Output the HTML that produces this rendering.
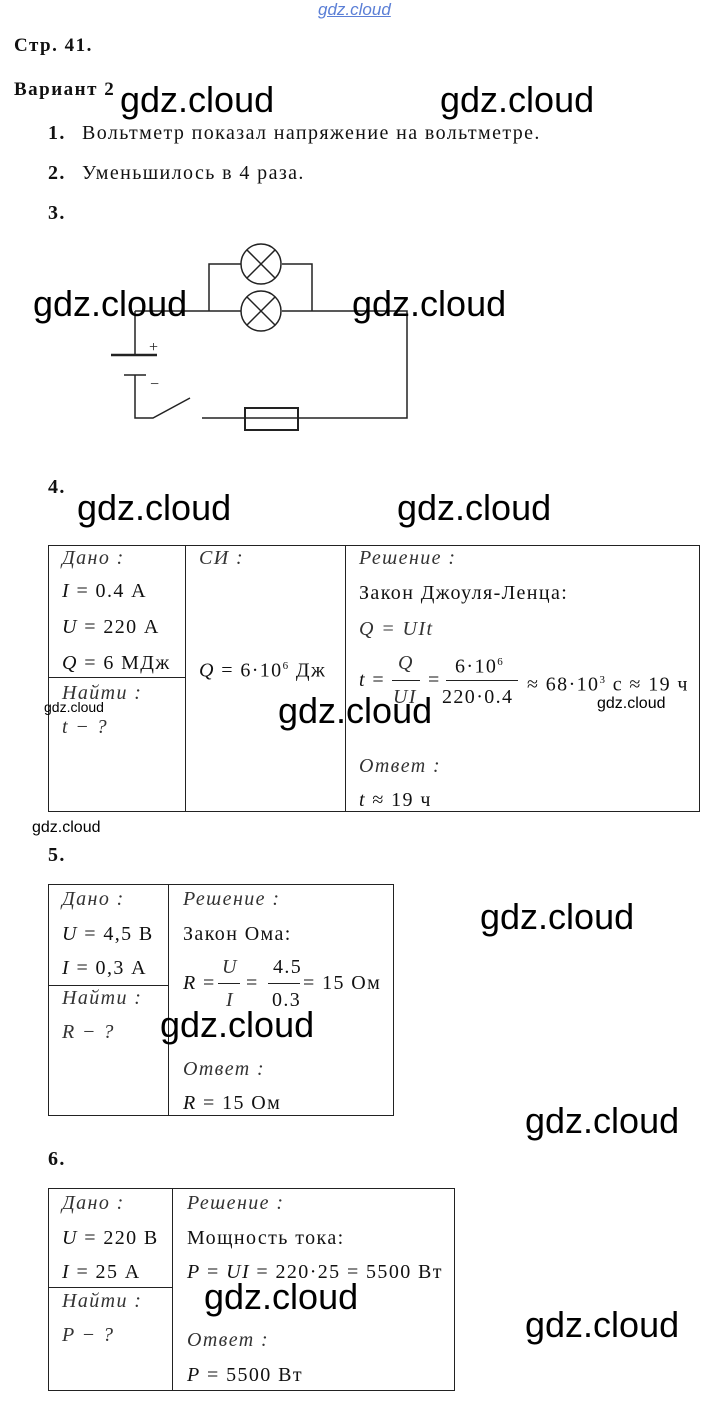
<!DOCTYPE html>
<html><head><meta charset="utf-8"><style>
body{margin:0;width:711px;height:1401px;background:#fff;position:relative;overflow:hidden;font-family:"Liberation Serif",serif;color:#111}
.t{position:absolute;font-size:20px;line-height:22px;white-space:nowrap;letter-spacing:1.4px}
.i{font-style:italic;color:#333}
.b{font-weight:bold}
.w{position:absolute;font-family:"Liberation Sans",sans-serif;font-size:36px;line-height:40px;color:#000;white-space:nowrap}
.ws{position:absolute;font-family:"Liberation Sans",sans-serif;font-size:15px;line-height:18px;color:#000;white-space:nowrap}
.ln{position:absolute;background:#222}
.box{position:absolute;border:1px solid #222}
sup{font-size:11px}
</style></head><body>
<div class="ws" style="left:318px;top:1px;color:#5b7fd6;font-size:17px;font-style:italic;text-decoration:underline">gdz.cloud</div>
<div class="t b" style="left:14px;top:35px;font-size:19px;letter-spacing:1.5px">Стр. 41.</div>
<div class="t b" style="left:14px;top:79px;font-size:19px;letter-spacing:1.5px">Вариант 2</div>
<div class="w" style="left:120px;top:80px">gdz.cloud</div>
<div class="w" style="left:440px;top:80px">gdz.cloud</div>
<div class="t b" style="left:48px;top:122px">1.</div>
<div class="t" style="left:82px;top:122px">Вольтметр показал напряжение на вольтметре.</div>
<div class="t b" style="left:48px;top:162px">2.</div>
<div class="t" style="left:82px;top:162px">Уменьшилось в 4 раза.</div>
<div class="t b" style="left:48px;top:202px">3.</div>
<svg style="position:absolute;left:0;top:0" width="711" height="460">
<g stroke="#222" stroke-width="1.5" fill="none">
<path d="M209 311V264H241M282 264H312V311"/>
<circle cx="261" cy="264" r="20"/><circle cx="261" cy="311" r="20"/>
<path d="M247 250L275 278M275 250L247 278M247 297L275 325M275 297L247 325"/>
<path d="M135 311H241M282 311H407V418H202"/>
<path d="M135 311V355M135 375V418H153L190 398"/>
<rect x="245" y="408" width="53" height="22" stroke-width="2"/>
<path d="M111 355H157" stroke-width="2.5"/>
<path d="M124 375H146"/>
</g>
<text x="149" y="352" font-family="Liberation Serif" font-size="16" fill="#222">+</text>
<text x="150" y="389" font-family="Liberation Serif" font-size="16" fill="#222">−</text>
</svg>
<div class="w" style="left:33px;top:284px">gdz.cloud</div>
<div class="w" style="left:352px;top:284px">gdz.cloud</div>
<div class="t b" style="left:48px;top:476px">4.</div>
<div class="w" style="left:77px;top:488px">gdz.cloud</div>
<div class="w" style="left:397px;top:488px">gdz.cloud</div>

<div class="box" style="left:48px;top:545px;width:650px;height:265px"></div>
<div class="ln" style="left:185px;top:545px;width:1px;height:266px"></div>
<div class="ln" style="left:345px;top:545px;width:1px;height:266px"></div>
<div class="ln" style="left:48px;top:677px;width:137px;height:1px"></div>
<div class="t i" style="left:62px;top:547px">Дано :</div>
<div class="t" style="left:62px;top:580px"><i>I</i> = 0.4 А</div>
<div class="t" style="left:62px;top:616px"><i>U</i> = 220 А</div>
<div class="t" style="left:62px;top:652px"><i>Q</i> = 6 МДж</div>
<div class="t i" style="left:62px;top:682px">Найти :</div>
<div class="t i" style="left:62px;top:716px">t − ?</div>
<div class="t i" style="left:199px;top:547px">СИ :</div>
<div class="t" style="left:199px;top:655px"><i>Q</i> = 6·10<sup>6</sup> Дж</div>
<div class="t i" style="left:359px;top:547px">Решение :</div>
<div class="t" style="left:359px;top:582px">Закон Джоуля-Ленца:</div>
<div class="t i" style="left:359px;top:618px">Q = UIt</div>
<div class="t" style="left:359px;top:669px"><i>t</i> =</div>
<div class="t i" style="left:398px;top:652px">Q</div>
<div class="ln" style="left:392px;top:680px;width:28px;height:1px"></div>
<div class="t i" style="left:393px;top:686px">UI</div>
<div class="t" style="left:428px;top:669px">=</div>
<div class="t" style="left:455px;top:651px">6·10<sup>6</sup></div>
<div class="ln" style="left:446px;top:680px;width:72px;height:1px"></div>
<div class="t" style="left:442px;top:686px">220·0.4</div>
<div class="t" style="left:527px;top:669px">≈ 68·10<sup>3</sup> с ≈ 19 ч</div>
<div class="t i" style="left:359px;top:755px">Ответ :</div>
<div class="t" style="left:359px;top:789px"><i>t</i> ≈ 19 ч</div>
<div class="ws" style="left:44px;top:698px;font-size:14px">gdz.cloud</div>
<div class="ws" style="left:597px;top:695px;font-size:16px">gdz.cloud</div>
<div class="w" style="left:278px;top:691px">gdz.cloud</div>
<div class="ws" style="left:32px;top:819px;font-size:16px">gdz.cloud</div>

<div class="t b" style="left:48px;top:844px">5.</div>
<div class="box" style="left:48px;top:884px;width:344px;height:230px"></div>
<div class="ln" style="left:168px;top:884px;width:1px;height:231px"></div>
<div class="ln" style="left:48px;top:985px;width:120px;height:1px"></div>
<div class="t i" style="left:62px;top:888px">Дано :</div>
<div class="t" style="left:62px;top:923px"><i>U</i> = 4,5 В</div>
<div class="t" style="left:62px;top:957px"><i>I</i> = 0,3 А</div>
<div class="t i" style="left:62px;top:987px">Найти :</div>
<div class="t i" style="left:62px;top:1021px">R − ?</div>
<div class="t i" style="left:183px;top:888px">Решение :</div>
<div class="t" style="left:183px;top:923px">Закон Ома:</div>
<div class="t" style="left:183px;top:972px"><i>R</i> =</div>
<div class="t i" style="left:222px;top:956px">U</div>
<div class="ln" style="left:218px;top:983px;width:22px;height:1px"></div>
<div class="t i" style="left:226px;top:989px">I</div>
<div class="t" style="left:246px;top:972px">=</div>
<div class="t" style="left:273px;top:956px">4.5</div>
<div class="ln" style="left:268px;top:983px;width:32px;height:1px"></div>
<div class="t" style="left:272px;top:989px">0.3</div>
<div class="t" style="left:303px;top:972px">= 15 Ом</div>
<div class="t i" style="left:183px;top:1058px">Ответ :</div>
<div class="t" style="left:183px;top:1092px"><i>R</i> = 15 Ом</div>
<div class="w" style="left:480px;top:897px">gdz.cloud</div>
<div class="w" style="left:160px;top:1005px">gdz.cloud</div>
<div class="w" style="left:525px;top:1101px">gdz.cloud</div>

<div class="t b" style="left:48px;top:1148px">6.</div>
<div class="box" style="left:48px;top:1188px;width:405px;height:201px"></div>
<div class="ln" style="left:172px;top:1188px;width:1px;height:202px"></div>
<div class="ln" style="left:48px;top:1287px;width:124px;height:1px"></div>
<div class="t i" style="left:62px;top:1192px">Дано :</div>
<div class="t" style="left:62px;top:1227px"><i>U</i> = 220 В</div>
<div class="t" style="left:62px;top:1261px"><i>I</i> = 25 А</div>
<div class="t i" style="left:62px;top:1290px">Найти :</div>
<div class="t i" style="left:62px;top:1324px">P − ?</div>
<div class="t i" style="left:187px;top:1192px">Решение :</div>
<div class="t" style="left:187px;top:1227px">Мощность тока:</div>
<div class="t" style="left:187px;top:1261px"><i>P</i> = <i>UI</i> = 220·25 = 5500 Вт</div>
<div class="t i" style="left:187px;top:1329px">Ответ :</div>
<div class="t" style="left:187px;top:1364px"><i>P</i> = 5500 Вт</div>
<div class="w" style="left:204px;top:1277px">gdz.cloud</div>
<div class="w" style="left:525px;top:1305px">gdz.cloud</div>
</body></html>
